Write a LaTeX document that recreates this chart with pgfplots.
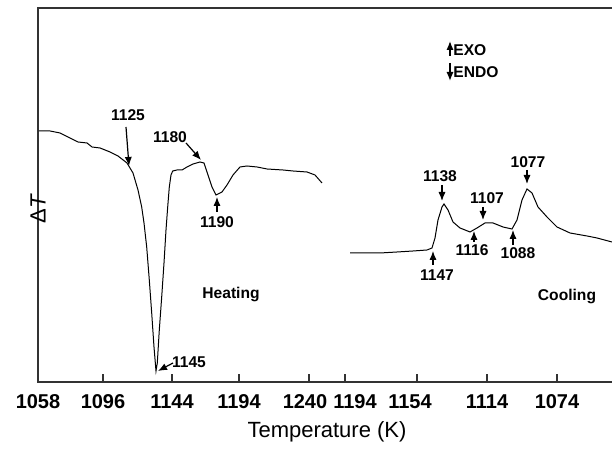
\documentclass[border=0pt]{standalone}
\usepackage{pgfplots}
\pgfplotsset{compat=1.18}
\usepackage{fontspec}
\setmainfont{Liberation Sans}
\usetikzlibrary{arrows.meta}

\begin{document}
\begin{tikzpicture}
\useasboundingbox (-19pt,-33.5pt) rectangle (287pt,191pt);
\begin{axis}[
  at={(0,0)}, anchor=south west,
  scale only axis, width=289pt, height=187pt,
  xmin=38, xmax=616, ymin=4, ymax=378,
  axis line style={line width=0.7pt, black!80},
  xtick={38,103,172,239,309,345,417,487,557},
  xticklabels={1058,1096,1144,1194,1240\hspace*{4pt},\hspace*{10pt}1194,1154\hspace*{7pt},1114,1074},
  xtick pos=bottom, tick align=inside, major tick length=4pt,
  tick style={line width=0.6pt, black!80},
  ytick=\empty,
  /pgf/number format/assume math mode=true,
  xticklabel style={font=\bfseries\fontsize{10}{12}\selectfont, anchor=base, yshift=-13.5pt},
  xlabel={Temperature (K)},
  xlabel style={font=\fontsize{11}{13}\selectfont, at={(axis description cs:0.5,0)}, anchor=base, yshift=-28pt},
  ylabel={Δ\textit{T}},
  ylabel style={font=\fontsize{11}{13}\selectfont, at={(axis description cs:0,0.49)}, anchor=center, xshift=-5pt},
  every axis plot/.append style={line width=0.5pt, black},
]
% heating run
\addplot[no marks] coordinates {
(39,255) (50,255) (60,253) (70,248) (78,244) (87,243) (92,239) (100,238)
(110,234) (118,230) (127,223) (133,213) (138,196) (141.7,179) (144,163)
(146.7,139) (149.3,106) (151.7,73) (154,39) (156,15) (157.3,23) (159.3,56)
(161.7,89) (164,123) (166,156) (167.7,179) (169.3,199) (171,211) (172.7,215)
(177,216) (182,216) (187,219) (193,222) (200,224) (204,223) (207,214)
(212,199) (216,191) (222,194) (227,201) (233,211) (240,219) (247,220)
(257,219) (267,217) (283,216) (293,215) (307,214) (315,211) (322,203)
};
% cooling run
\addplot[no marks] coordinates {
(350,133) (363,133) (380,133) (397,134) (413,135) (427,136) (432,138)
(435,148) (438,166) (442,179) (444,182) (448,176) (453,164) (460,158)
(470,154) (477,158) (485,163) (493,163) (503,159) (512,157) (517,166)
(522,186) (527,197) (532,193) (538,179) (547,169) (557,159) (570,153)
(587,150) (597,148) (612,144) (620,143)
};

% peak annotations
\tikzset{lab/.style={font=\bfseries\fontsize{7.8}{9}\selectfont, inner sep=0pt},
         arr/.style={-{Latex[length=4.5pt,width=3.6pt]}, line width=0.6pt}}
\node[lab] at (axis cs:128,271) {1125};
\draw[arr] (axis cs:126,259) -- (axis cs:129,220);
\node[lab] at (axis cs:170,249) {1180};
\draw[arr] (axis cs:186,243) -- (axis cs:201,226);
\node[lab] at (axis cs:217,164) {1190};
\draw[arr] (axis cs:217,174) -- (axis cs:217,189);
\node[lab] at (axis cs:189,24) {1145};
\draw[arr] (axis cs:173,23) -- (axis cs:158,15);
\node[lab] at (axis cs:231,91) {Heating};

\node[lab] at (axis cs:440,210) {1138};
\draw[arr] (axis cs:442,201) -- (axis cs:442,185);
\node[lab] at (axis cs:487,188) {1107};
\draw[arr] (axis cs:483,179) -- (axis cs:483,166);
\node[lab] at (axis cs:528,224) {1077};
\draw[arr] (axis cs:527,216) -- (axis cs:527,202);
\node[lab] at (axis cs:437,111) {1147};
\draw[arr] (axis cs:433,121) -- (axis cs:433,135);
\node[lab] at (axis cs:472,136) {1116};
\draw[arr] (axis cs:474,144) -- (axis cs:474,155);
\node[lab] at (axis cs:518,133) {1088};
\draw[arr] (axis cs:513,141) -- (axis cs:513,156);
\node[lab] at (axis cs:567,89) {Cooling};

% exo / endo key
\draw[arr, line width=0.7pt] (axis cs:450,330) -- (axis cs:450,345);
\node[lab, anchor=west] at (axis cs:453,336) {EXO};
\draw[arr, line width=0.7pt] (axis cs:450,323) -- (axis cs:450,305);
\node[lab, anchor=west] at (axis cs:453,314) {ENDO};
\end{axis}
\end{tikzpicture}
\end{document}
